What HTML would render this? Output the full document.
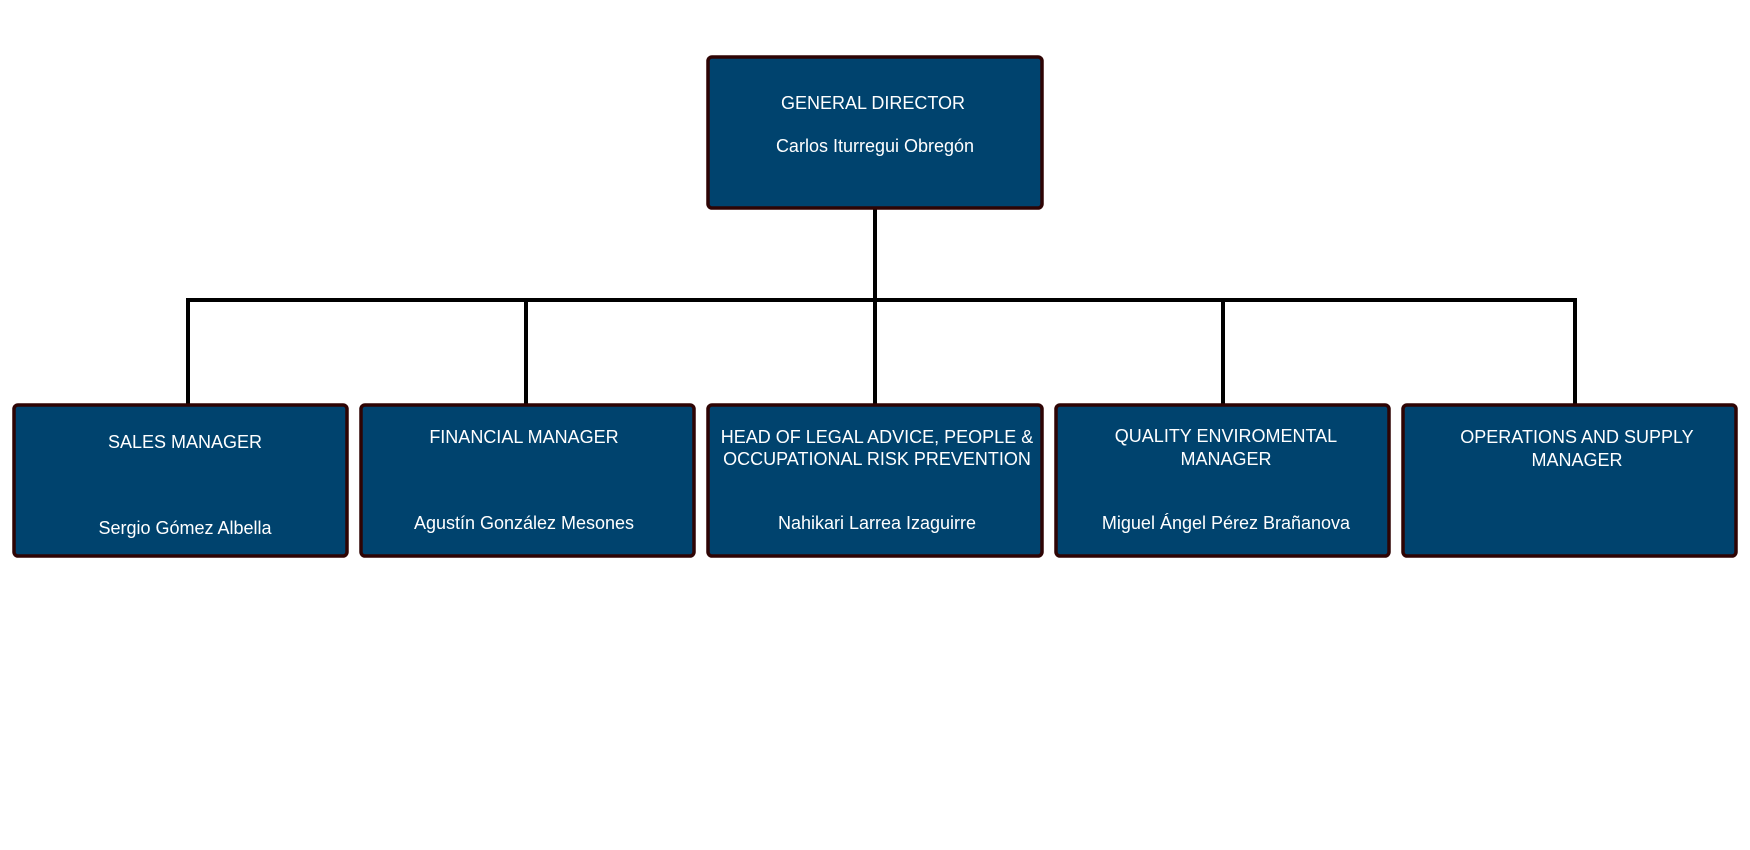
<!DOCTYPE html>
<html><head><meta charset="utf-8"><style>
html,body{margin:0;padding:0;background:#fff;width:1750px;height:850px;overflow:hidden}
svg{display:block}
text{font-family:"Liberation Sans",Arial,sans-serif;font-size:18px;fill:#fff;text-anchor:middle;dominant-baseline:central}
</style></head><body>
<svg width="1750" height="850" viewBox="0 0 1750 850">
<g stroke="#000" stroke-width="4" fill="none">
<line x1="875" y1="208" x2="875" y2="300"/>
<line x1="186" y1="300" x2="1577" y2="300"/>
<line x1="188" y1="300" x2="188" y2="404"/>
<line x1="526" y1="300" x2="526" y2="404"/>
<line x1="875" y1="300" x2="875" y2="404"/>
<line x1="1223" y1="300" x2="1223" y2="404"/>
<line x1="1575" y1="300" x2="1575" y2="404"/>
</g>
<g fill="#00436e" stroke="#2e0404" stroke-width="3.5">
<rect x="708" y="57" width="334" height="151" rx="4"/>
<rect x="14" y="405" width="333" height="151" rx="4"/>
<rect x="361" y="405" width="333" height="151" rx="4"/>
<rect x="708" y="405" width="334" height="151" rx="4"/>
<rect x="1056" y="405" width="333" height="151" rx="4"/>
<rect x="1403" y="405" width="333" height="151" rx="4"/>
</g>
<text x="873" y="103">GENERAL DIRECTOR</text>
<text x="875" y="146">Carlos Iturregui Obregón</text>
<text x="185" y="442">SALES MANAGER</text>
<text x="185" y="528">Sergio Gómez Albella</text>
<text x="524" y="437">FINANCIAL MANAGER</text>
<text x="524" y="523">Agustín González Mesones</text>
<text x="877" y="437">HEAD OF LEGAL ADVICE, PEOPLE &amp;</text>
<text x="877" y="459">OCCUPATIONAL RISK PREVENTION</text>
<text x="877" y="523">Nahikari Larrea Izaguirre</text>
<text x="1226" y="436">QUALITY ENVIROMENTAL</text>
<text x="1226" y="459">MANAGER</text>
<text x="1226" y="523">Miguel Ángel Pérez Brañanova</text>
<text x="1577" y="437">OPERATIONS AND SUPPLY</text>
<text x="1577" y="460">MANAGER</text>
</svg>
</body></html>
